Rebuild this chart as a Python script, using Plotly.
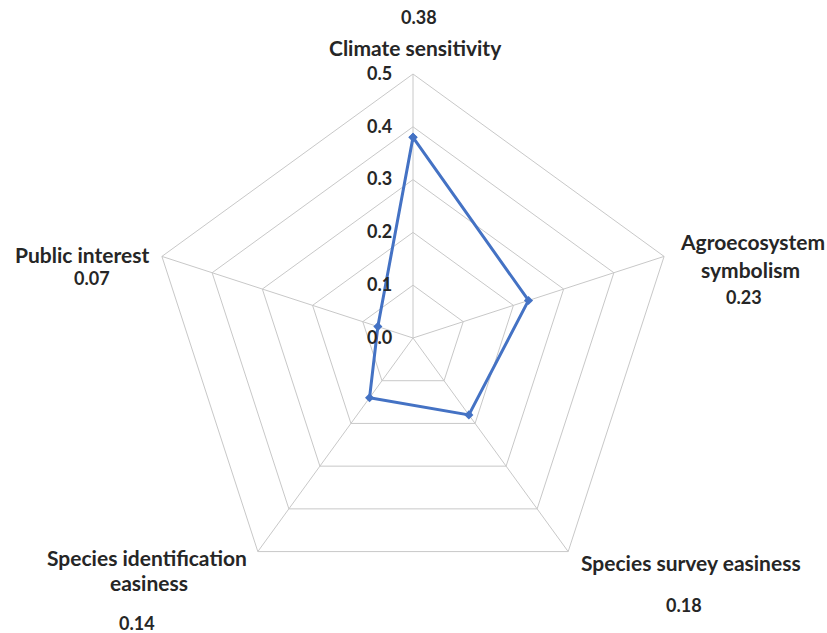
import plotly.graph_objects as go

categories = ["Climate sensitivity", "Agroecosystem symbolism", "Species survey easiness",
              "Species identification easiness", "Public interest"]
values = [0.38, 0.23, 0.18, 0.14, 0.07]
value_labels = ["0.38", "0.23", "0.18", "0.14", "0.07"]
radial_ticks = [0.0, 0.1, 0.2, 0.3, 0.4, 0.5]

W, H = 827, 633
L, R, T, B = 149, 150, 74, 31
PW, PH = W - L - R, H - T - B

def px(x, y):
    return (x - L) / PW, (H - B - y) / PH

FONT = "Lato"
TXT = "#262626"

fig = go.Figure()
fig.add_trace(go.Scatterpolar(
    r=values + [values[0]],
    theta=categories + [categories[0]],
    mode="lines+markers",
    line=dict(color="#4472C4", width=3),
    marker=dict(symbol="diamond", size=7, color="#4472C4"),
    showlegend=False,
))

# label text, font size, and positions (pixel centres)
label_items = [
    ("0.38", 18, 419, 17),
    ("Climate sensitivity", 21, 415, 47),
    ("Agroecosystem", 21, 752, 241),
    ("symbolism", 21, 750, 269),
    ("0.23", 18, 744, 297),
    ("Species survey easiness", 21, 691, 562),
    ("0.18", 18, 684, 605),
    ("Species identification", 21, 147, 557),
    ("easiness", 21, 149, 582),
    ("0.14", 18, 137, 623),
    ("Public interest", 21, 82, 254),
    ("0.07", 18, 92, 278),
]
annotations = []
for text, size, x, y in label_items:
    xp, yp = px(x, y)
    annotations.append(dict(text="<b>%s</b>" % text, x=xp, y=yp, xref="paper", yref="paper",
                            xanchor="center", yanchor="middle", showarrow=False,
                            font=dict(family=FONT, size=size, color=TXT)))

fig.update_layout(
    width=W, height=H,
    margin=dict(l=L, r=R, t=T, b=B),
    paper_bgcolor="white",
    plot_bgcolor="white",
    annotations=annotations,
    polar=dict(
        bgcolor="white",
        gridshape="linear",
        domain=dict(x=[0, 1], y=[0, 1]),
        radialaxis=dict(
            range=[0, 0.5], tickvals=radial_ticks, tickformat=".1f",
            angle=90, side="counterclockwise", tickangle=90,
            showline=False, showgrid=True, gridcolor="#c8c8c8", gridwidth=1,
            ticks="outside", ticklen=14, tickcolor="rgba(0,0,0,0)",
            tickfont=dict(family=FONT, size=18, color=TXT, weight="bold"),
        ),
        angularaxis=dict(
            rotation=90, direction="clockwise",
            categoryorder="array", categoryarray=categories,
            showticklabels=False, ticks="",
            showline=True, linecolor="#c8c8c8", linewidth=1,
            showgrid=True, gridcolor="#c8c8c8", gridwidth=1,
        ),
    ),
)

fig.write_html("out.html", post_script="document.body.style.margin='0';",
               config={"displayModeBar": False})
